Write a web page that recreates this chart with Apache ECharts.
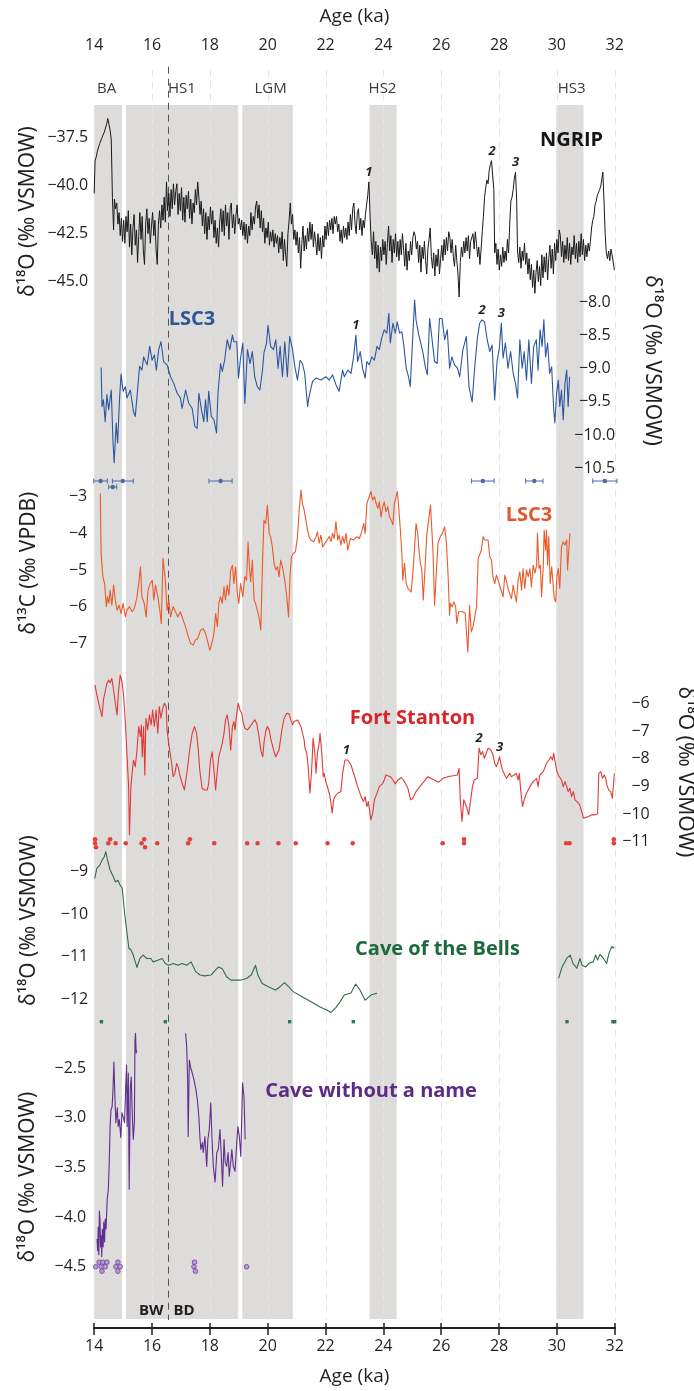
<!DOCTYPE html>
<html>
<head>
<meta charset="utf-8">
<script src="https://cdn.jsdelivr.net/npm/echarts/dist/echarts.min.js"></script>
<style>
  html, body { margin: 0; padding: 0; background: #ffffff; }
  #chart { width: 694px; height: 1391px; }
</style>
</head>
<body>
<div id="chart"></div>
<script>
// ---------------------------------------------------------------
// Records, ages in ka
// ---------------------------------------------------------------

// Shaded intervals: [name, start, end]
const stadials = [
  ['BA', 14.0, 14.96],
  ['HS1', 15.1, 18.98],
  ['LGM', 19.12, 20.87],
  ['HS2', 23.52, 24.46],
  ['HS3', 29.98, 30.92]
];
// Interval names and the age each is centred on
const stadialLabels = [['BA', 14.43], ['HS1', 17.03], ['LGM', 20.1], ['HS2', 23.97], ['HS3', 30.51]];
// Boundary inside HS1 and the phases either side of it
const boundaryAge = 16.55;
const boundaryLabels = ['BW', 'BD'];
// Dashed age guides
const ageGuides = [16, 18, 20, 22, 24, 26, 28, 30, 32];

// Axis tick ranges [min, max, step]
const ngripTicks = [-45, -37.5, 2.5];
const lsc3OTicks = [-10.5, -8, 0.5];
const lsc3CTicks = [-7, -3, 1];
const stantonTicks = [-11, -6, 1];
const bellsTicks = [-12, -9, 1];
const cwanTicks = [-4.5, -2.5, 0.5];

// NGRIP δ18O
const ngrip = [
[14.00,-40.4],[14.03,-38.7],[14.07,-38.5],[14.11,-38.2],[14.15,-38.3],[14.19,-37.8],[14.23,-37.9],[14.27,-37.5],[14.31,-37.6],[14.35,-37.2],
[14.39,-37.3],[14.43,-36.8],[14.47,-36.5],[14.51,-36.6],[14.55,-37.1],[14.59,-37.6],[14.63,-40.6],[14.67,-42.3],[14.70,-40.7],[14.74,-41.2],
[14.78,-40.9],[14.82,-42.0],[14.86,-41.4],[14.90,-42.6],[14.94,-41.7],[14.98,-42.9],[15.02,-41.8],[15.06,-43.0],[15.10,-41.6],[15.14,-42.4],
[15.18,-41.3],[15.22,-43.2],[15.26,-42.0],[15.30,-43.6],[15.34,-42.2],[15.38,-41.5],[15.42,-43.1],[15.46,-42.3],[15.50,-44.0],[15.54,-42.6],
[15.58,-41.4],[15.62,-42.8],[15.66,-41.6],[15.70,-43.4],[15.74,-44.1],[15.78,-42.0],[15.82,-41.2],[15.86,-42.5],[15.90,-41.7],[15.94,-43.0],
[15.98,-42.1],[16.02,-41.4],[16.06,-42.6],[16.10,-41.8],[16.14,-43.3],[16.18,-44.1],[16.22,-42.0],[16.26,-41.3],[16.30,-42.2],[16.34,-41.0],
[16.38,-41.8],[16.42,-40.6],[16.46,-41.9],[16.50,-39.8],[16.54,-41.3],[16.58,-40.4],[16.62,-41.6],[16.66,-40.2],[16.70,-41.2],[16.74,-39.9],
[16.78,-41.0],[16.82,-40.3],[16.86,-39.9],[16.90,-41.5],[16.94,-40.4],[16.98,-41.3],[17.02,-40.1],[17.06,-41.8],[17.10,-40.6],[17.14,-41.9],
[17.18,-40.5],[17.22,-41.2],[17.26,-40.3],[17.30,-41.7],[17.34,-40.7],[17.38,-42.0],[17.42,-40.9],[17.46,-41.4],[17.50,-40.2],[17.54,-41.0],
[17.58,-39.8],[17.62,-40.6],[17.66,-41.5],[17.70,-40.8],[17.74,-42.1],[17.78,-41.2],[17.82,-42.5],[17.86,-41.4],[17.90,-42.8],[17.94,-41.6],
[17.98,-42.3],[18.02,-41.1],[18.06,-42.0],[18.10,-41.3],[18.14,-42.7],[18.18,-41.8],[18.22,-43.0],[18.26,-42.2],[18.30,-43.2],[18.34,-41.9],
[18.38,-41.2],[18.42,-42.4],[18.46,-41.3],[18.50,-42.6],[18.54,-41.0],[18.58,-42.1],[18.62,-41.4],[18.66,-42.8],[18.70,-41.2],[18.74,-40.9],
[18.78,-42.2],[18.82,-41.5],[18.86,-42.5],[18.90,-41.6],[18.94,-41.0],[18.98,-42.0],[19.02,-41.7],[19.06,-42.3],[19.10,-41.8],[19.14,-42.6],
[19.18,-41.9],[19.22,-42.8],[19.26,-42.0],[19.30,-43.0],[19.34,-42.1],[19.38,-42.6],[19.42,-41.4],[19.46,-42.3],[19.50,-41.6],[19.54,-42.0],
[19.58,-41.1],[19.62,-40.8],[19.66,-41.7],[19.70,-41.0],[19.74,-42.2],[19.78,-41.3],[19.82,-42.4],[19.86,-41.7],[19.90,-43.0],[19.94,-42.2],
[19.98,-42.7],[20.02,-41.9],[20.06,-43.1],[20.10,-42.4],[20.14,-42.9],[20.18,-42.3],[20.22,-43.2],[20.26,-42.5],[20.30,-43.0],[20.34,-42.6],
[20.38,-43.5],[20.42,-42.7],[20.46,-43.3],[20.50,-42.4],[20.54,-43.9],[20.58,-42.8],[20.62,-43.6],[20.66,-44.2],[20.70,-42.5],[20.74,-41.8],
[20.78,-40.9],[20.82,-42.0],[20.86,-41.5],[20.90,-42.8],[20.94,-42.3],[20.98,-43.1],[21.02,-42.4],[21.06,-43.5],[21.10,-42.7],[21.14,-44.3],
[21.18,-43.0],[21.22,-42.1],[21.26,-43.4],[21.30,-42.6],[21.34,-43.3],[21.38,-42.2],[21.42,-42.9],[21.46,-41.9],[21.50,-42.8],[21.54,-42.0],
[21.58,-43.2],[21.62,-42.4],[21.66,-42.9],[21.70,-43.6],[21.74,-42.5],[21.78,-43.4],[21.82,-42.7],[21.86,-43.8],[21.90,-42.6],[21.94,-43.2],
[21.98,-42.1],[22.02,-42.8],[22.06,-41.9],[22.10,-42.6],[22.14,-41.8],[22.18,-42.3],[22.22,-41.7],[22.26,-42.5],[22.30,-41.6],[22.34,-42.0],
[22.38,-41.6],[22.42,-42.4],[22.46,-42.0],[22.50,-42.9],[22.54,-42.3],[22.58,-43.0],[22.62,-42.1],[22.66,-42.7],[22.70,-42.2],[22.74,-42.8],
[22.78,-41.9],[22.82,-42.6],[22.86,-41.5],[22.90,-42.3],[22.94,-41.2],[22.98,-40.9],[23.02,-42.0],[23.06,-42.5],[23.10,-41.4],[23.14,-41.2],
[23.18,-42.3],[23.22,-41.7],[23.26,-42.6],[23.30,-41.8],[23.34,-42.2],[23.38,-41.5],[23.42,-41.0],[23.46,-40.5],[23.50,-39.8],[23.54,-41.6],
[23.58,-42.9],[23.62,-43.6],[23.66,-42.4],[23.70,-43.8],[23.74,-42.9],[23.78,-44.3],[23.82,-43.1],[23.86,-44.5],[23.90,-43.2],[23.94,-43.9],
[23.98,-42.8],[24.02,-43.6],[24.06,-42.9],[24.10,-44.1],[24.14,-43.0],[24.18,-42.1],[24.22,-43.4],[24.26,-42.6],[24.30,-44.0],[24.34,-42.8],
[24.38,-43.5],[24.42,-42.5],[24.46,-43.7],[24.50,-42.9],[24.54,-43.9],[24.58,-42.8],[24.62,-43.6],[24.66,-42.5],[24.70,-43.3],[24.74,-44.2],
[24.78,-43.0],[24.82,-44.4],[24.86,-43.4],[24.90,-43.9],[24.94,-42.9],[24.98,-43.6],[25.02,-42.7],[25.06,-42.4],[25.10,-42.6],[25.14,-43.3],
[25.18,-42.9],[25.22,-44.0],[25.26,-43.1],[25.30,-44.5],[25.34,-43.2],[25.38,-43.8],[25.42,-42.9],[25.46,-43.9],[25.50,-44.6],[25.54,-43.3],
[25.58,-42.8],[25.62,-42.2],[25.66,-43.7],[25.70,-44.3],[25.74,-43.5],[25.78,-44.7],[25.82,-43.6],[25.86,-44.2],[25.90,-43.3],[25.94,-44.6],
[25.98,-43.8],[26.02,-43.1],[26.06,-43.9],[26.10,-42.8],[26.14,-43.6],[26.18,-42.7],[26.22,-43.4],[26.26,-42.4],[26.30,-42.7],[26.34,-43.5],
[26.38,-42.8],[26.42,-43.7],[26.46,-44.2],[26.50,-43.1],[26.54,-43.9],[26.58,-44.6],[26.62,-45.8],[26.66,-44.0],[26.70,-43.2],[26.74,-43.7],
[26.78,-42.9],[26.82,-43.5],[26.86,-42.7],[26.90,-43.4],[26.94,-42.6],[26.98,-43.8],[27.02,-42.9],[27.06,-42.8],[27.10,-42.5],[27.14,-43.3],
[27.18,-42.4],[27.22,-43.0],[27.26,-43.7],[27.30,-43.2],[27.34,-44.1],[27.38,-43.3],[27.42,-42.4],[27.46,-41.6],[27.50,-40.6],[27.54,-40.1],
[27.58,-39.7],[27.62,-39.9],[27.66,-39.2],[27.70,-38.9],[27.74,-38.7],[27.78,-38.7],[27.82,-40.2],[27.85,-43.5],[27.89,-43.0],[27.93,-44.1],
[27.97,-43.3],[28.01,-44.4],[28.05,-43.6],[28.09,-44.2],[28.13,-43.2],[28.17,-44.0],[28.21,-43.4],[28.25,-43.9],[28.29,-42.8],[28.33,-43.5],
[28.37,-42.0],[28.41,-40.8],[28.45,-40.6],[28.49,-40.2],[28.53,-39.6],[28.57,-39.3],[28.61,-40.8],[28.64,-43.4],[28.68,-44.0],[28.72,-43.2],
[28.76,-44.3],[28.80,-43.4],[28.84,-43.9],[28.88,-43.0],[28.92,-44.1],[28.96,-43.5],[29.00,-44.6],[29.04,-43.8],[29.08,-44.9],[29.12,-44.1],
[29.16,-45.3],[29.20,-44.4],[29.24,-45.6],[29.28,-44.5],[29.32,-43.9],[29.36,-45.0],[29.40,-44.2],[29.44,-45.2],[29.48,-43.6],[29.52,-44.8],
[29.56,-43.7],[29.60,-44.5],[29.64,-43.5],[29.68,-44.9],[29.72,-43.8],[29.76,-43.1],[29.80,-44.3],[29.84,-43.3],[29.88,-44.6],[29.92,-43.0],
[29.96,-43.9],[30.00,-42.8],[30.04,-43.5],[30.08,-42.3],[30.12,-42.6],[30.16,-43.7],[30.20,-42.9],[30.24,-44.0],[30.28,-43.1],[30.32,-43.8],
[30.36,-42.7],[30.40,-43.9],[30.44,-43.0],[30.48,-44.1],[30.52,-43.2],[30.56,-43.6],[30.60,-42.6],[30.64,-43.8],[30.68,-43.0],[30.72,-44.0],
[30.76,-42.9],[30.80,-43.7],[30.84,-42.5],[30.88,-43.6],[30.92,-42.8],[30.96,-43.9],[31.00,-43.1],[31.04,-43.7],[31.08,-43.0],[31.12,-43.4],
[31.16,-42.9],[31.20,-42.2],[31.24,-41.8],[31.28,-41.6],[31.32,-41.0],[31.36,-40.8],[31.40,-40.5],[31.44,-40.6],[31.48,-40.2],[31.52,-40.0],
[31.56,-39.6],[31.59,-39.3],[31.63,-40.8],[31.67,-42.5],[31.71,-43.5],[31.75,-43.8],[31.79,-43.4],[31.83,-43.9],[31.87,-43.3],[31.91,-43.6],
[31.95,-43.5],[31.99,-44.4]
];

// LSC3 δ18O
const lsc3O = [
[14.24,-8.98],[14.27,-9.57],[14.32,-9.47],[14.38,-9.8],[14.44,-9.39],[14.5,-9.62],[14.59,-9.32],[14.65,-10.1],[14.69,-10.42],[14.76,-9.82],
[14.81,-10.12],[14.88,-9.42],[14.93,-9.08],[15.0,-9.34],[15.08,-9.27],[15.13,-9.44],[15.25,-9.32],[15.36,-9.65],[15.42,-9.72],[15.48,-9.42],
[15.57,-8.96],[15.65,-9.02],[15.71,-8.82],[15.83,-8.94],[15.92,-8.66],[16.0,-8.87],[16.08,-8.79],[16.15,-9.02],[16.23,-8.71],[16.31,-8.59],
[16.4,-8.89],[16.52,-8.94],[16.64,-9.12],[16.75,-9.22],[16.87,-9.37],[16.98,-9.44],[17.04,-9.6],[17.16,-9.32],[17.27,-9.52],[17.39,-9.6],
[17.48,-9.87],[17.56,-9.9],[17.62,-9.37],[17.71,-9.62],[17.79,-9.8],[17.85,-9.47],[17.91,-9.8],[17.96,-9.34],[18.05,-9.72],[18.14,-9.77],
[18.23,-9.97],[18.28,-9.37],[18.37,-8.92],[18.43,-9.04],[18.51,-8.87],[18.6,-8.56],[18.69,-8.71],[18.78,-8.49],[18.83,-8.59],[18.93,-8.59],
[18.99,-9.14],[19.06,-8.84],[19.14,-8.61],[19.21,-9.52],[19.3,-8.71],[19.39,-8.92],[19.47,-8.74],[19.55,-9.12],[19.64,-9.27],[19.73,-9.32],
[19.82,-9.02],[19.87,-8.76],[19.96,-8.61],[20.01,-8.34],[20.1,-8.66],[20.2,-8.71],[20.28,-8.56],[20.36,-8.99],[20.43,-8.66],[20.51,-9.12],
[20.59,-8.59],[20.68,-9.12],[20.76,-8.51],[20.86,-8.71],[20.94,-8.97],[21.03,-9.17],[21.12,-8.87],[21.2,-8.92],[21.28,-9.07],[21.38,-9.57],
[21.43,-9.42],[21.55,-9.19],[21.67,-9.14],[21.84,-9.17],[22.01,-9.12],[22.13,-9.17],[22.24,-9.09],[22.36,-9.24],[22.47,-9.34],[22.59,-9.02],
[22.65,-9.12],[22.77,-9.02],[22.88,-9.07],[22.97,-8.82],[23.05,-8.49],[23.11,-8.89],[23.2,-8.74],[23.28,-8.99],[23.37,-9.14],[23.43,-8.89],
[23.51,-8.94],[23.6,-8.82],[23.69,-8.87],[23.78,-8.66],[23.86,-8.71],[23.94,-8.54],[24.03,-8.41],[24.12,-8.46],[24.19,-8.16],[24.24,-8.61],
[24.33,-8.31],[24.41,-8.46],[24.48,-8.29],[24.56,-8.46],[24.64,-8.44],[24.71,-8.66],[24.79,-8.99],[24.87,-9.12],[24.93,-9.27],[25.0,-8.66],
[25.08,-7.96],[25.13,-8.26],[25.21,-8.46],[25.28,-8.59],[25.37,-8.76],[25.45,-8.97],[25.52,-9.09],[25.6,-8.24],[25.68,-8.54],[25.77,-8.89],
[25.86,-8.92],[25.94,-8.24],[26.03,-8.24],[26.12,-8.56],[26.21,-8.41],[26.29,-8.99],[26.37,-8.82],[26.46,-8.94],[26.56,-8.99],[26.64,-9.12],
[26.75,-8.71],[26.87,-8.51],[26.96,-9.27],[27.07,-9.5],[27.16,-8.97],[27.25,-8.54],[27.33,-8.31],[27.41,-8.26],[27.5,-8.29],[27.59,-8.56],
[27.68,-8.74],[27.76,-8.64],[27.85,-9.47],[27.93,-8.89],[28.01,-8.69],[28.08,-8.31],[28.14,-8.84],[28.22,-8.61],[28.31,-8.99],[28.4,-8.74],
[28.49,-9.07],[28.57,-9.22],[28.64,-9.44],[28.72,-8.56],[28.8,-8.99],[28.87,-8.74],[28.95,-9.17],[29.03,-8.56],[29.12,-9.22],[29.2,-8.66],
[29.29,-8.56],[29.35,-9.02],[29.42,-8.41],[29.49,-8.66],[29.55,-8.26],[29.61,-8.82],[29.68,-8.61],[29.75,-9.07],[29.82,-8.97],[29.89,-9.62],
[29.93,-9.82],[29.99,-9.37],[30.05,-9.17],[30.1,-9.57],[30.16,-9.32],[30.22,-9.77],[30.28,-9.22],[30.34,-9.02],[30.39,-9.57],[30.44,-9.12]
];

// LSC3 δ13C
const lsc3C = [
[14.21,-2.91],[14.24,-4.55],[14.3,-5.19],[14.36,-5.37],[14.42,-6.0],[14.46,-5.73],[14.51,-5.91],[14.55,-5.55],[14.61,-5.96],[14.67,-5.41],
[14.73,-5.82],[14.79,-6.1],[14.86,-5.96],[14.93,-6.19],[15.0,-5.91],[15.08,-6.28],[15.13,-6.1],[15.22,-6.0],[15.31,-6.14],[15.39,-6.05],
[15.48,-5.73],[15.54,-5.37],[15.6,-4.91],[15.65,-5.73],[15.73,-5.91],[15.8,-6.28],[15.86,-5.55],[15.94,-5.37],[16.01,-5.28],[16.06,-5.82],
[16.12,-5.41],[16.2,-5.73],[16.27,-6.1],[16.32,-6.46],[16.38,-4.68],[16.46,-5.28],[16.52,-6.1],[16.58,-5.82],[16.64,-6.28],[16.73,-6.0],
[16.81,-6.14],[16.89,-6.28],[16.98,-6.14],[17.08,-6.37],[17.16,-6.55],[17.24,-6.78],[17.33,-7.0],[17.42,-7.05],[17.5,-6.91],[17.58,-6.87],
[17.68,-6.64],[17.77,-6.6],[17.85,-6.73],[17.91,-6.91],[18.0,-7.19],[18.08,-6.96],[18.14,-6.73],[18.2,-6.19],[18.26,-6.55],[18.31,-5.91],
[18.37,-5.73],[18.43,-5.91],[18.49,-5.46],[18.54,-5.82],[18.6,-5.41],[18.66,-5.69],[18.72,-5.0],[18.78,-4.87],[18.83,-5.37],[18.89,-4.91],
[18.95,-5.64],[19.0,-5.91],[19.06,-5.37],[19.14,-5.73],[19.21,-5.18],[19.27,-5.28],[19.32,-4.23],[19.37,-4.91],[19.41,-5.32],[19.47,-4.73],
[19.53,-5.82],[19.58,-5.91],[19.64,-6.1],[19.7,-6.28],[19.76,-6.64],[19.82,-4.82],[19.87,-3.64],[19.93,-3.73],[19.99,-3.23],[20.05,-4.0],
[20.1,-4.09],[20.16,-4.37],[20.22,-4.82],[20.28,-5.0],[20.34,-4.91],[20.39,-5.19],[20.45,-4.73],[20.51,-4.91],[20.59,-5.28],[20.66,-5.73],
[20.72,-6.28],[20.77,-5.19],[20.82,-4.64],[20.89,-4.55],[20.96,-4.5],[21.03,-4.09],[21.09,-3.36],[21.15,-2.82],[21.2,-3.18],[21.26,-3.36],
[21.32,-3.64],[21.38,-3.91],[21.43,-4.09],[21.49,-4.18],[21.59,-4.23],[21.67,-4.09],[21.72,-3.96],[21.78,-4.27],[21.84,-4.05],[21.9,-4.37],
[21.95,-4.41],[22.05,-4.18],[22.13,-4.09],[22.19,-4.23],[22.24,-4.0],[22.3,-4.14],[22.36,-3.68],[22.42,-4.18],[22.47,-4.05],[22.53,-4.32],
[22.59,-4.09],[22.65,-4.27],[22.71,-4.0],[22.77,-4.46],[22.86,-4.14],[22.97,-4.18],[23.09,-4.09],[23.17,-4.14],[23.25,-3.96],[23.32,-3.73],
[23.37,-4.0],[23.43,-3.18],[23.51,-3.0],[23.57,-2.86],[23.63,-3.09],[23.69,-3.0],[23.75,-3.18],[23.81,-3.32],[23.86,-3.14],[23.92,-3.55],
[23.98,-3.27],[24.03,-3.14],[24.09,-3.41],[24.15,-3.27],[24.21,-3.55],[24.27,-3.64],[24.33,-3.77],[24.38,-3.18],[24.44,-3.0],[24.48,-2.86],
[24.52,-3.18],[24.58,-3.82],[24.64,-4.55],[24.67,-5.28],[24.73,-4.82],[24.79,-5.37],[24.85,-5.5],[24.9,-5.46],[24.96,-5.6],[25.02,-5.09],
[25.08,-4.37],[25.13,-3.73],[25.19,-4.0],[25.22,-4.37],[25.28,-4.82],[25.33,-5.0],[25.38,-5.82],[25.45,-4.82],[25.5,-4.05],[25.56,-4.05],
[25.63,-3.23],[25.68,-3.96],[25.72,-4.55],[25.77,-5.96],[25.83,-5.09],[25.89,-4.27],[25.97,-4.09],[26.04,-4.0],[26.12,-3.82],[26.18,-4.27],
[26.23,-5.0],[26.29,-6.23],[26.32,-5.91],[26.38,-6.0],[26.44,-5.87],[26.5,-6.0],[26.54,-6.46],[26.6,-6.14],[26.66,-6.18],[26.75,-6.14],
[26.83,-6.18],[26.89,-6.18],[26.92,-7.23],[26.98,-5.96],[27.04,-6.69],[27.1,-6.55],[27.16,-6.28],[27.22,-6.0],[27.28,-4.68],[27.33,-4.64],
[27.39,-4.46],[27.45,-4.09],[27.5,-4.18],[27.56,-4.23],[27.62,-4.18],[27.68,-4.64],[27.74,-4.73],[27.79,-5.19],[27.85,-5.37],[27.91,-5.14],
[27.97,-5.28],[28.02,-5.41],[28.08,-5.37],[28.14,-5.73],[28.2,-5.14],[28.26,-5.32],[28.31,-5.5],[28.37,-5.46],[28.43,-5.78],[28.49,-5.41],
[28.54,-5.64],[28.6,-5.87],[28.66,-5.28],[28.72,-5.05],[28.78,-5.55],[28.83,-4.96],[28.89,-5.5],[28.95,-5.0],[29.01,-5.18],[29.07,-4.96],
[29.12,-5.46],[29.18,-4.87],[29.24,-5.09],[29.3,-4.87],[29.33,-4.0],[29.38,-4.96],[29.43,-4.87],[29.47,-5.73],[29.53,-4.91],[29.56,-3.91],
[29.61,-4.46],[29.64,-3.91],[29.68,-4.87],[29.72,-4.09],[29.77,-5.37],[29.82,-4.91],[29.86,-5.28],[29.91,-5.78],[29.96,-5.87],[30.0,-5.18],
[30.05,-4.96],[30.1,-5.5],[30.16,-4.37],[30.22,-4.23],[30.28,-4.32],[30.34,-4.18],[30.37,-5.0],[30.42,-4.37],[30.45,-4.0]
];

// Fort Stanton δ18O
const stanton = [
[14.03,-5.34],[14.09,-5.7],[14.15,-5.64],[14.21,-6.24],[14.27,-6.48],[14.32,-5.88],[14.38,-5.58],[14.44,-5.28],[14.5,-5.16],[14.55,-5.26],
[14.61,-5.1],[14.67,-5.52],[14.73,-6.0],[14.79,-6.42],[14.84,-5.58],[14.9,-4.98],[14.96,-5.22],[15.02,-5.76],[15.08,-6.72],[15.13,-7.8],
[15.19,-9.01],[15.22,-10.75],[15.27,-9.01],[15.32,-8.41],[15.36,-8.05],[15.42,-8.29],[15.48,-7.69],[15.54,-6.84],[15.6,-7.2],[15.63,-6.78],
[15.66,-7.93],[15.71,-6.84],[15.75,-8.59],[15.79,-6.54],[15.85,-6.96],[15.91,-6.42],[15.97,-6.78],[16.02,-6.24],[16.08,-6.84],[16.14,-6.24],
[16.2,-7.08],[16.25,-6.12],[16.31,-6.54],[16.37,-6.18],[16.43,-6.0],[16.49,-6.12],[16.52,-6.96],[16.56,-7.32],[16.61,-7.69],[16.67,-8.11],
[16.73,-8.65],[16.79,-8.53],[16.85,-8.17],[16.9,-8.29],[16.96,-8.59],[17.04,-8.89],[17.12,-9.13],[17.22,-8.41],[17.3,-7.69],[17.39,-7.08],
[17.47,-6.84],[17.54,-7.08],[17.6,-7.69],[17.65,-8.41],[17.73,-9.07],[17.82,-9.13],[17.91,-9.13],[17.96,-8.89],[18.02,-8.05],[18.08,-7.75],
[18.14,-8.41],[18.2,-9.13],[18.26,-8.41],[18.31,-7.93],[18.37,-7.69],[18.43,-7.44],[18.49,-7.08],[18.54,-6.6],[18.6,-6.42],[18.66,-6.84],
[18.72,-7.69],[18.78,-6.84],[18.83,-6.66],[18.87,-6.96],[18.93,-6.36],[18.98,-6.0],[19.04,-6.24],[19.1,-6.36],[19.16,-6.72],[19.21,-6.9],
[19.3,-6.96],[19.39,-6.84],[19.47,-6.72],[19.55,-6.6],[19.62,-6.72],[19.7,-7.2],[19.76,-7.69],[19.83,-7.93],[19.87,-7.44],[19.93,-7.02],
[19.99,-6.84],[20.05,-6.96],[20.1,-7.26],[20.16,-7.5],[20.22,-7.75],[20.28,-7.93],[20.34,-7.99],[20.39,-7.69],[20.45,-7.26],[20.51,-6.84],
[20.57,-6.54],[20.66,-6.36],[20.74,-6.38],[20.8,-6.6],[20.86,-6.78],[20.91,-6.66],[20.97,-6.6],[21.03,-6.6],[21.09,-6.66],[21.15,-6.84],
[21.2,-7.08],[21.26,-7.32],[21.29,-7.62],[21.35,-7.8],[21.4,-8.29],[21.46,-9.25],[21.52,-8.41],[21.57,-7.26],[21.63,-7.8],[21.67,-8.53],
[21.72,-7.8],[21.78,-7.44],[21.81,-7.08],[21.87,-7.8],[21.92,-8.65],[21.95,-8.53],[22.01,-8.83],[22.07,-8.89],[22.13,-9.25],[22.19,-9.61],
[22.23,-9.97],[22.28,-9.49],[22.32,-9.37],[22.42,-9.25],[22.53,-9.19],[22.59,-8.53],[22.67,-8.05],[22.77,-8.05],[22.88,-8.23],[22.99,-8.59],
[23.11,-9.01],[23.23,-9.37],[23.31,-9.55],[23.37,-9.37],[23.43,-9.73],[23.48,-9.55],[23.57,-10.21],[23.63,-9.97],[23.69,-9.49],[23.78,-9.25],
[23.86,-9.01],[23.92,-9.07],[23.98,-8.89],[24.03,-8.77],[24.09,-8.59],[24.15,-8.62],[24.24,-8.65],[24.33,-8.77],[24.41,-8.91],[24.5,-8.77],
[24.62,-8.68],[24.73,-8.83],[24.85,-9.07],[24.94,-9.49],[25.02,-9.43],[25.13,-9.19],[25.31,-8.95],[25.54,-8.65],[25.71,-8.74],[25.91,-8.85],
[26.06,-8.71],[26.23,-8.65],[26.41,-8.62],[26.56,-8.59],[26.62,-8.35],[26.66,-9.49],[26.72,-10.27],[26.78,-9.49],[26.83,-9.61],[26.89,-9.79],
[26.95,-10.03],[27.02,-9.49],[27.08,-9.01],[27.14,-8.77],[27.19,-8.71],[27.25,-8.71],[27.31,-7.62],[27.37,-7.86],[27.43,-7.74],[27.49,-7.99],
[27.54,-7.86],[27.62,-7.62],[27.71,-7.68],[27.79,-7.86],[27.85,-8.17],[27.91,-8.29],[27.97,-8.11],[28.02,-7.93],[28.06,-8.17],[28.12,-8.41],
[28.2,-8.59],[28.26,-8.71],[28.37,-8.53],[28.43,-8.65],[28.52,-8.59],[28.6,-8.53],[28.66,-8.77],[28.7,-8.53],[28.75,-9.13],[28.81,-9.73],
[28.87,-9.49],[28.95,-9.25],[29.07,-9.01],[29.18,-8.83],[29.3,-8.71],[29.35,-9.01],[29.41,-8.59],[29.53,-8.47],[29.64,-8.17],[29.72,-8.05],
[29.79,-7.93],[29.85,-8.05],[29.89,-7.8],[29.93,-8.05],[29.99,-8.41],[30.05,-8.59],[30.1,-8.53],[30.16,-8.77],[30.22,-9.01],[30.28,-8.83],
[30.34,-9.01],[30.39,-9.19],[30.45,-9.07],[30.51,-9.37],[30.57,-9.19],[30.63,-9.49],[30.69,-9.43],[30.75,-9.61],[30.81,-9.73],[30.86,-9.79],
[30.92,-10.15],[30.98,-10.21],[31.09,-10.09],[31.21,-10.03],[31.32,-10.03],[31.41,-9.99],[31.45,-8.53],[31.52,-8.47],[31.58,-8.71],[31.64,-8.59],
[31.69,-8.71],[31.73,-8.95],[31.79,-9.13],[31.86,-9.19],[31.92,-9.43],[31.99,-8.53]
];

// Cave of the Bells δ18O (two growth periods)
const bellsYoung = [
[14.02,-9.16],[14.09,-8.92],[14.2,-8.84],[14.28,-8.72],[14.35,-8.65],[14.4,-8.53],[14.46,-8.72],[14.55,-8.96],[14.66,-9.12],[14.74,-9.24],
[14.82,-9.2],[14.89,-9.31],[14.97,-9.39],[15.04,-9.9],[15.12,-10.37],[15.2,-10.8],[15.27,-10.84],[15.35,-10.96],[15.48,-11.25],[15.58,-11.04],
[15.69,-10.96],[15.82,-11.04],[15.96,-11.04],[16.04,-11.12],[16.2,-11.08],[16.35,-11.04],[16.46,-11.16],[16.58,-11.2],[16.74,-11.16],[16.89,-11.2],
[17.04,-11.16],[17.2,-11.2],[17.35,-11.12],[17.51,-11.35],[17.66,-11.43],[17.81,-11.45],[18.04,-11.43],[18.2,-11.31],[18.3,-11.24],[18.43,-11.28],
[18.58,-11.47],[18.73,-11.55],[19.04,-11.55],[19.27,-11.51],[19.43,-11.43],[19.58,-11.2],[19.66,-11.43],[19.81,-11.63],[20.04,-11.71],[20.27,-11.78],
[20.42,-11.71],[20.58,-11.61],[20.73,-11.71],[20.88,-11.82],[21.19,-11.94],[21.5,-12.06],[21.81,-12.18],[22.04,-12.25],[22.19,-12.31],[22.35,-12.2],
[22.5,-12.06],[22.65,-11.9],[22.88,-11.85],[23.04,-11.64],[23.19,-11.78],[23.37,-12.02],[23.57,-11.9],[23.78,-11.86]
];
const bellsOld = [
[30.06,-11.51],[30.18,-11.24],[30.34,-11.04],[30.46,-10.96],[30.56,-11.16],[30.69,-11.27],[30.8,-11.04],[30.87,-11.2],[31.0,-11.24],[31.1,-11.16],
[31.26,-11.12],[31.34,-10.96],[31.41,-11.08],[31.49,-10.94],[31.61,-11.04],[31.72,-11.16],[31.8,-10.92],[31.9,-10.76],[31.96,-10.73],[31.99,-10.8]
];

// Cave without a name δ18O (two growth periods)
const cwanYoung = [
[14.1,-4.22],[14.12,-4.34],[14.14,-4.1],[14.16,-4.38],[14.18,-3.94],[14.2,-4.02],[14.22,-4.3],[14.24,-4.19],[14.26,-4.4],[14.28,-4.12],
[14.31,-4.3],[14.33,-4.05],[14.36,-4.25],[14.38,-4.02],[14.41,-4.12],[14.45,-3.82],[14.49,-3.72],[14.52,-3.45],[14.55,-3.09],[14.58,-2.92],
[14.62,-2.89],[14.65,-2.72],[14.68,-2.44],[14.72,-2.82],[14.75,-3.05],[14.8,-2.9],[14.83,-3.09],[14.87,-3.02],[14.92,-3.2],[14.96,-2.95],
[15.01,-3.0],[15.05,-3.05],[15.09,-2.69],[15.12,-2.47],[15.14,-3.09],[15.18,-2.55],[15.21,-3.72],[15.25,-2.69],[15.28,-2.59],[15.32,-2.99],
[15.35,-3.22],[15.39,-3.05],[15.41,-2.22],[15.43,-2.15],[15.45,-2.35],[15.47,-2.32]
];
const cwanOld = [
[17.16,-2.15],[17.2,-2.29],[17.23,-2.59],[17.25,-3.19],[17.29,-2.42],[17.34,-2.5],[17.39,-2.55],[17.45,-2.62],[17.52,-2.72],[17.58,-2.85],
[17.62,-3.0],[17.66,-3.22],[17.69,-3.32],[17.74,-3.25],[17.77,-3.35],[17.83,-3.19],[17.89,-3.49],[17.93,-3.22],[17.98,-3.12],[18.03,-2.85],
[18.07,-3.19],[18.12,-3.49],[18.18,-3.65],[18.24,-3.35],[18.29,-3.32],[18.35,-3.12],[18.39,-3.35],[18.44,-3.69],[18.49,-3.22],[18.53,-3.45],
[18.58,-3.49],[18.63,-3.35],[18.67,-3.59],[18.72,-3.45],[18.76,-3.32],[18.81,-3.49],[18.87,-3.54],[18.93,-3.25],[18.97,-3.09],[19.02,-3.19],
[19.07,-3.39],[19.11,-2.89],[19.13,-2.65],[19.18,-2.79],[19.22,-3.22]
];

// U-Th ages: LSC3 [age, 2σ], the others age only
const lsc3Dates = [[14.22, 0.235], [14.64, 0.14], [14.99, 0.36], [18.37, 0.40], [27.44, 0.39], [29.22, 0.30], [31.66, 0.42]];
const stantonDates = [14.03, 14.03, 14.06, 14.49, 14.55, 14.74, 15.09, 15.64, 15.73, 15.76, 16.18, 17.25, 17.31, 18.15, 19.29,
  19.65, 20.37, 20.97, 22.07, 22.94, 26.05, 26.79, 26.79, 30.32, 30.44, 31.97, 31.97];
const bellsDates = [14.25, 16.46, 20.76, 22.96, 30.35, 31.94, 32.0];
const cwanDates = [14.05, 14.17, 14.24, 14.27, 14.3, 14.38, 14.44, 14.75, 14.82, 14.82, 14.9, 17.45, 17.47, 17.5, 19.27];

// Numbered interstadials: [label, age, value at the peak]
const ngripPeaks = [['1', 23.5, -39.8], ['2', 27.76, -38.7], ['3', 28.57, -39.3]];
const lsc3Peaks = [['1', 23.05, -8.49], ['2', 27.41, -8.26], ['3', 28.08, -8.31]];
const stantonPeaks = [['1', 22.72, -8.05], ['2', 27.31, -7.62], ['3', 28.02, -7.93]];

// ---------------------------------------------------------------
// Styling and layout
// ---------------------------------------------------------------
const FONT = '"Open Sans", "Noto Sans", "DejaVu Sans", sans-serif';
const TITLE_FONT = '"Noto Sans", "DejaVu Sans", sans-serif';
const INK = '#231f20';
const BAND = '#dddcda';
const C_NGRIP = '#1a1a1a', C_LSC3O = '#2c57a0', C_LSC3C = '#ea5a2b', C_STANTON = '#e03a37',
      C_BELLS = '#2f6d46', C_CWAN = '#5e2f8e';

const PLOT_LEFT = 94.2, PLOT_WIDTH = 520.5;
const AXIS_TOP = 61.7, AXIS_BOTTOM = 1328.3;
const BAND_TOP = 105, BAND_BOTTOM = 1319;

// Vertical placement of each record's tick range
const panels = [
  { ticks: ngripTicks,   top: 137.7, bottom: 281.7, side: 'left',  digits: 1, margin: 6 },
  { ticks: lsc3OTicks,   top: 302.7, bottom: 468.0, side: 'right', digits: 1, margin: -20, align: 'center' },
  { ticks: lsc3CTicks,   top: 496.7, bottom: 643.3, side: 'left',  digits: 0, margin: 7 },
  { ticks: stantonTicks, top: 703.3, bottom: 841.7, side: 'right', digits: 0, margin: 35, align: 'right' },
  { ticks: bellsTicks,   top: 871.7, bottom: 999.3, side: 'left',  digits: 0, margin: 6 },
  { ticks: cwanTicks,    top: 1068.0, bottom: 1266.7, side: 'left', digits: 1, margin: 8 }
];

const fmtNum = (v, d) => v.toFixed(d).replace('-', '\u2212');

const grids = [
  { left: PLOT_LEFT, width: PLOT_WIDTH, top: AXIS_TOP, height: AXIS_BOTTOM - AXIS_TOP },
  { left: PLOT_LEFT, width: PLOT_WIDTH, top: BAND_TOP, height: BAND_BOTTOM - BAND_TOP }
].concat(panels.map(p => ({ left: PLOT_LEFT, width: PLOT_WIDTH, top: p.top, height: p.bottom - p.top })));

const ageAxisBase = (pos) => ({
  gridIndex: 0, type: 'value', min: 14, max: 32, interval: 2, position: pos,
  axisLine: { show: true, lineStyle: { color: INK, width: 2 } },
  axisTick: { show: true, inside: true, length: pos === 'top' ? 7 : 5, lineStyle: { color: INK, width: 1.5 } },
  axisLabel: { show: true, fontSize: 16, color: INK, fontFamily: FONT, margin: pos === 'top' ? 8 : 10,
               showMinLabel: true, showMaxLabel: true },
  splitLine: { show: false },
  name: 'Age (ka)', nameLocation: 'middle', nameGap: pos === 'top' ? 36 : 39,
  nameTextStyle: { fontSize: 19, color: INK, fontFamily: FONT }
});

const xAxes = [ageAxisBase('top'), ageAxisBase('bottom')];
for (let g = 1; g < grids.length; g++) {
  xAxes.push({ gridIndex: g, type: 'value', min: 14, max: 32, show: false });
}
const yAxes = [
  { gridIndex: 0, type: 'value', min: 0, max: 1, show: false },
  { gridIndex: 1, type: 'value', min: 0, max: 1, show: false }
];
panels.forEach((p, i) => {
  yAxes.push({
    gridIndex: i + 2, type: 'value', min: p.ticks[0], max: p.ticks[1], interval: p.ticks[2],
    position: p.side, z: 10,
    axisLine: { show: false }, axisTick: { show: false }, splitLine: { show: false },
    axisLabel: {
      show: true, margin: p.margin, align: p.align, fontSize: 16, color: INK, fontFamily: FONT,
      showMinLabel: true, showMaxLabel: true,
      formatter: v => fmtNum(v, p.digits)
    }
  });
});
// axis index of each record panel
const PX = i => i + 3, PY = i => i + 2;

// Greedy rows for age error bars, widest first
function barRows(dates) {
  const order = dates.map((d, i) => i).sort((a, b) => dates[b][1] - dates[a][1]);
  const placed = [], rows = [];
  order.forEach(i => {
    const lo = dates[i][0] - dates[i][1], hi = dates[i][0] + dates[i][1];
    let r = 0;
    while (placed.some(p => p.r === r && lo < p.hi && hi > p.lo)) r++;
    placed.push({ r, lo, hi });
    rows[i] = r;
  });
  return rows;
}
// Stack neighbouring dots above and below a base row
function dotLevels(ages, gap) {
  const order = [0, -1, 1, -2, 2, -3, 3];
  const placed = [];
  return ages.map(a => {
    for (const l of order) {
      if (!placed.some(p => p.l === l && Math.abs(p.a - a) < gap)) { placed.push({ a, l }); return l; }
    }
    return 0;
  });
}

function lineSeries(panel, data, color, width) {
  return {
    type: 'line', xAxisIndex: PX(panel), yAxisIndex: PY(panel), data,
    symbol: 'none', showSymbol: false, clip: false, silent: true, z: 4,
    lineStyle: { color, width: width || 1.1, join: 'round' }
  };
}

function peakLabels(panel, peaks) {
  return {
    type: 'custom', xAxisIndex: PX(panel), yAxisIndex: PY(panel), clip: false, silent: true, z: 6,
    data: peaks.map(p => [p[1], p[2]]),
    renderItem(params, api) {
      const pt = api.coord([api.value(0), api.value(1)]);
      return { type: 'text', x: pt[0], y: pt[1] - 3,
        style: { text: peaks[params.dataIndex][0], font: 'italic bold 13px ' + FONT, fill: INK,
                 align: 'center', verticalAlign: 'bottom', textAlign: 'center', textVerticalAlign: 'bottom' } };
    }
  };
}

function dotSeries(panel, ages, gap, offset, spacing, shape, color, border, size) {
  const levels = dotLevels(ages, gap);
  return {
    type: 'custom', xAxisIndex: PX(panel), yAxisIndex: PY(panel), clip: false, silent: true, z: 5,
    data: ages.map((a, i) => [a, levels[i]]),
    renderItem(params, api) {
      const cs = params.coordSys;
      const x = api.coord([api.value(0), 0])[0];
      const y = cs.y + cs.height + offset + api.value(1) * spacing;
      if (shape === 'square') {
        return { type: 'rect', shape: { x: x - size / 2, y: y - size / 2, width: size, height: size }, style: { fill: color } };
      }
      return { type: 'circle', shape: { cx: x, cy: y, r: size / 2 },
               style: { fill: color, stroke: border || null, lineWidth: border ? 0.8 : 0 } };
    }
  };
}

const lsc3Rows = barRows(lsc3Dates);

const series = [
  // shaded intervals
  {
    type: 'custom', xAxisIndex: 2, yAxisIndex: 1, silent: true, z: 1, clip: false,
    data: stadials.map(s => [s[1], s[2]]),
    renderItem(params, api) {
      const cs = params.coordSys;
      const x0 = api.coord([api.value(0), 0])[0], x1 = api.coord([api.value(1), 0])[0];
      return { type: 'rect', shape: { x: x0, y: cs.y, width: x1 - x0, height: cs.height }, style: { fill: BAND } };
    }
  },
  // dashed age guides
  {
    type: 'custom', xAxisIndex: 0, yAxisIndex: 0, silent: true, z: 2, clip: false,
    data: ageGuides.map(a => [a, 0]),
    renderItem(params, api) {
      const cs = params.coordSys;
      const x = Math.round(api.coord([api.value(0), 0])[0]) + 0.5;
      return { type: 'line', shape: { x1: x, y1: cs.y + 8, x2: x, y2: cs.y + cs.height - 8 },
               style: { stroke: '#e6e6e6', lineWidth: 1, lineDash: [7, 5] } };
    }
  },
  // BW / BD boundary
  {
    type: 'custom', xAxisIndex: 0, yAxisIndex: 0, silent: true, z: 3, clip: false,
    data: [[boundaryAge, 0]],
    renderItem(params, api) {
      const cs = params.coordSys;
      const x = Math.round(api.coord([api.value(0), 0])[0]) + 0.5;
      const yb = cs.y + cs.height;
      const lab = { font: 'bold 15px ' + FONT, fill: INK, verticalAlign: 'middle', textVerticalAlign: 'middle' };
      return { type: 'group', children: [
        { type: 'line', shape: { x1: x, y1: cs.y + 5, x2: x, y2: yb - 8 },
          style: { stroke: '#555555', lineWidth: 1, lineDash: [7, 5] } },
        { type: 'text', x: x - 5, y: yb - 17, style: Object.assign({ text: boundaryLabels[0], align: 'right', textAlign: 'right' }, lab) },
        { type: 'text', x: x + 5, y: yb - 17, style: Object.assign({ text: boundaryLabels[1], align: 'left', textAlign: 'left' }, lab) }
      ] };
    }
  },
  // interval names
  {
    type: 'custom', xAxisIndex: 0, yAxisIndex: 0, silent: true, z: 3, clip: false,
    data: stadialLabels.map(s => [s[1], 0]),
    renderItem(params, api) {
      const cs = params.coordSys;
      const x = api.coord([api.value(0), 0])[0];
      return { type: 'text', x, y: cs.y + 26.6,
        style: { text: stadialLabels[params.dataIndex][0], font: '15px ' + FONT, fill: '#3a3a3a',
                 align: 'center', verticalAlign: 'middle', textAlign: 'center', textVerticalAlign: 'middle' } };
    }
  },
  lineSeries(0, ngrip, C_NGRIP, 1),
  lineSeries(1, lsc3O, C_LSC3O),
  lineSeries(2, lsc3C, C_LSC3C),
  lineSeries(3, stanton, C_STANTON),
  lineSeries(4, bellsYoung, C_BELLS),
  lineSeries(4, bellsOld, C_BELLS),
  lineSeries(5, cwanYoung, C_CWAN),
  lineSeries(5, cwanOld, C_CWAN),
  // LSC3 ages with 2σ bars
  {
    type: 'custom', xAxisIndex: PX(1), yAxisIndex: PY(1), silent: true, z: 5, clip: false,
    data: lsc3Dates.map((d, i) => [d[0], d[1], lsc3Rows[i]]),
    renderItem(params, api) {
      const cs = params.coordSys;
      const a = api.value(0), e = api.value(1);
      const xc = api.coord([a, 0])[0], xl = api.coord([a - e, 0])[0], xr = api.coord([a + e, 0])[0];
      const y = cs.y + cs.height + 13 + api.value(2) * 6;
      const st = { stroke: '#4a6aa6', lineWidth: 1 };
      return { type: 'group', children: [
        { type: 'line', shape: { x1: xl, y1: y, x2: xr, y2: y }, style: st },
        { type: 'line', shape: { x1: xl, y1: y - 2.5, x2: xl, y2: y + 2.5 }, style: st },
        { type: 'line', shape: { x1: xr, y1: y - 2.5, x2: xr, y2: y + 2.5 }, style: st },
        { type: 'circle', shape: { cx: xc, cy: y, r: 2.2 }, style: { fill: '#4a6aa6' } }
      ] };
    }
  },
  dotSeries(3, stantonDates, 0.12, 1.5, 4, 'circle', '#e4403b', null, 4.6),
  dotSeries(4, bellsDates, 0.05, 22.4, 4, 'square', '#2e7a4c', null, 3.4),
  dotSeries(5, cwanDates, 0.12, 0, 4.5, 'circle', '#b89bd2', '#6b3f9b', 4.6),
  peakLabels(0, ngripPeaks),
  peakLabels(1, lsc3Peaks),
  peakLabels(3, stantonPeaks)
];

// Axis titles and record names
function vTitle(text, x, y, rot) {
  return { type: 'text', x, y, rotation: rot, silent: true, z: 10,
    style: { text, font: '21px ' + TITLE_FONT, fill: INK, align: 'center', verticalAlign: 'middle',
             textAlign: 'center', textVerticalAlign: 'middle' } };
}
function recordName(text, x, y, color) {
  return { type: 'text', x, y, silent: true, z: 10,
    style: { text, font: 'bold 20px ' + FONT, fill: color, align: 'center', verticalAlign: 'middle',
             textAlign: 'center', textVerticalAlign: 'middle' } };
}
const UP = Math.PI / 2, DOWN = -Math.PI / 2;
const D18O = '\u03b4\u00b9\u2078O (\u2030 VSMOW)';
const D13C = '\u03b4\u00b9\u00b3C (\u2030 VPDB)';

const graphics = [
  vTitle(D18O, 28, 211.5, UP),
  vTitle(D18O, 652, 360.5, DOWN),
  vTitle(D13C, 29, 563, UP),
  vTitle(D18O, 685, 772, DOWN),
  vTitle(D18O, 29, 920.5, UP),
  vTitle(D18O, 28, 1177, UP),
  recordName('NGRIP', 571.5, 140, '#151515'),
  recordName('LSC3', 192, 319, '#2e5597'),
  recordName('LSC3', 529, 515.7, '#e3562b'),
  recordName('Fort Stanton', 412.5, 718, '#d8252b'),
  recordName('Cave of the Bells', 437.5, 949, '#1c6a3b'),
  recordName('Cave without a name', 371, 1091.7, '#5a2c85')
];

const chart = echarts.init(document.getElementById('chart'), null, { renderer: 'canvas', width: 694, height: 1391 });
chart.setOption({
  animation: false,
  backgroundColor: '#ffffff',
  grid: grids,
  xAxis: xAxes,
  yAxis: yAxes,
  series,
  graphic: graphics
});
</script>
</body>
</html>
